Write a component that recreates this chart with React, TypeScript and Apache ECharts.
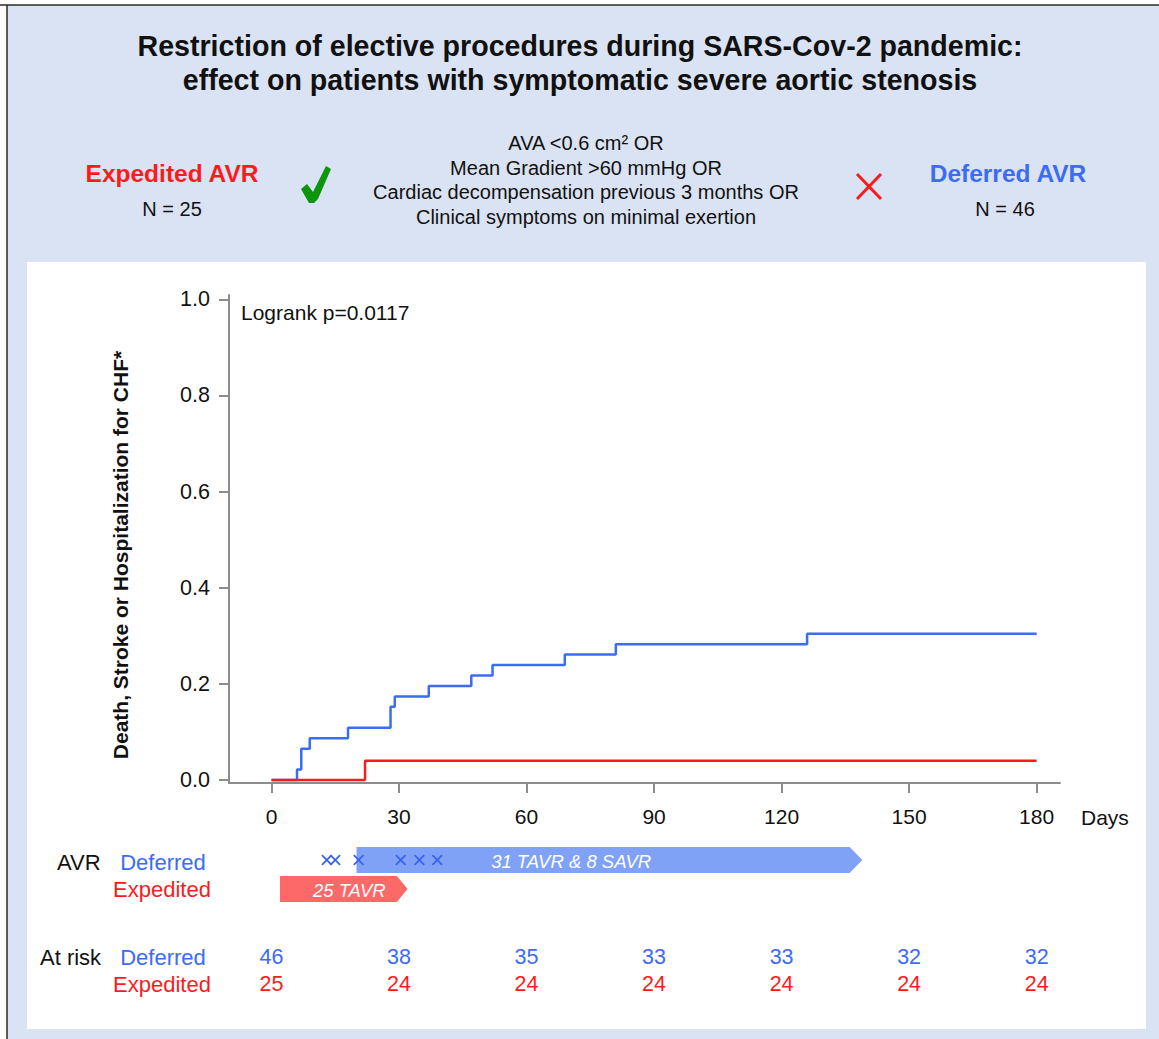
import React, { useEffect, useRef } from "react";
import * as echarts from "echarts";

// ---------- data ----------
const xTicks = [0, 30, 60, 90, 120, 150, 180];
const yTicks = [0, 0.2, 0.4, 0.6, 0.8, 1.0];

const deferredDays = [0, 6, 7, 9, 18, 28, 29, 37, 47, 52, 69, 81, 126, 180];
const deferredRisk = [0, 0.0217, 0.0652, 0.087, 0.1087, 0.1522, 0.1739, 0.1957, 0.2174, 0.2391, 0.2609, 0.2826, 0.3043, 0.3043];
const expeditedDays = [0, 22, 180];
const expeditedRisk = [0, 0.04, 0.04];

const atRiskDays = [0, 30, 60, 90, 120, 150, 180];
const atRiskDeferred = [46, 38, 35, 33, 33, 32, 32];
const atRiskExpedited = [25, 24, 24, 24, 24, 24, 24];

const deferredMarkerDays = [13, 15, 20.5, 30.4, 34.8, 39];

const avrBarStart = [20, 2];
const avrBarEnd = [136, 29.5];
const avrBarTip = [139, 32];
const avrBarLabelDay = [70.5, 18.3];
const avrBarLabels = ["31 TAVR & 8 SAVR", "25 TAVR"];

// rows of the lower panel
const ROW_AVR_DEF = 1;
const ROW_AVR_EXP = 2;
const ROW_RISK_DEF = 4.34;
const ROW_RISK_EXP = 5.28;

const BLUE = "#3b6cf2";
const RED = "#fa1c1c";
const BLUE_BAR = "#80a2f6";
const RED_BAR = "#fd6868";
const AXIS = "#8c8c8c";
const FONT = "Liberation Sans, Arial, sans-serif";

export default function App() {
  const ref = useRef<HTMLDivElement>(null);

  useEffect(() => {
    document.body.style.margin = "0";
    const chart = echarts.init(ref.current!, null, { renderer: "svg" });

    const txt = (text: string, x: number, y: number, size: number, opts: any = {}) => ({
      type: "text",
      x,
      y,
      z: 5,
      style: {
        text,
        fontSize: size,
        fontFamily: FONT,
        fontWeight: opts.bold ? "bold" : "normal",
        fill: opts.color || "#111",
        align: opts.align || "center",
        verticalAlign: "middle",
      },
      ...(opts.rotation ? { rotation: opts.rotation } : {}),
    });

    const option: any = {
      animation: false,
      backgroundColor: "#ffffff",
      grid: [
        { left: 229, right: 99, top: 295, bottom: 256 },
        { left: 229, right: 99, top: 831, height: 174 },
      ],
      xAxis: [
        {
          gridIndex: 0,
          type: "value",
          min: -10,
          max: 185.5,
          axisLine: { show: true, onZero: false, lineStyle: { color: AXIS, width: 2 } },
          axisTick: { show: true, length: 10, customValues: xTicks, lineStyle: { color: AXIS, width: 2 } },
          axisLabel: { customValues: xTicks, margin: 23, fontSize: 21, fontFamily: FONT, color: "#111" },
          splitLine: { show: false },
        },
        { gridIndex: 1, type: "value", min: -10, max: 185.5, show: false },
      ],
      yAxis: [
        {
          gridIndex: 0,
          type: "value",
          min: -0.0062,
          max: 1.0089,
          axisLine: { show: true, onZero: false, lineStyle: { color: AXIS, width: 2 } },
          axisTick: { show: true, length: 10, customValues: yTicks, lineStyle: { color: AXIS, width: 2 } },
          axisLabel: {
            customValues: yTicks,
            margin: 19,
            fontSize: 21.5,
            fontFamily: FONT,
            color: "#111",
            formatter: (v: number) => v.toFixed(1),
          },
          splitLine: { show: false },
        },
        { gridIndex: 1, type: "value", min: 0, max: 6, inverse: true, show: false },
      ],
      series: [
        {
          type: "line",
          name: "Deferred",
          xAxisIndex: 0,
          yAxisIndex: 0,
          step: "end",
          symbol: "none",
          lineStyle: { color: BLUE, width: 2.5 },
          data: deferredDays.map((d, i) => [d, deferredRisk[i]]),
          z: 3,
        },
        {
          type: "line",
          name: "Expedited",
          xAxisIndex: 0,
          yAxisIndex: 0,
          step: "end",
          symbol: "none",
          lineStyle: { color: RED, width: 2.5 },
          data: expeditedDays.map((d, i) => [d, expeditedRisk[i]]),
          z: 4,
        },
        {
          type: "custom",
          name: "AVR bars",
          xAxisIndex: 1,
          yAxisIndex: 1,
          z: 3,
          data: [
            [avrBarStart[0], avrBarEnd[0], avrBarTip[0], ROW_AVR_DEF, avrBarLabelDay[0]],
            [avrBarStart[1], avrBarEnd[1], avrBarTip[1], ROW_AVR_EXP, avrBarLabelDay[1]],
          ],
          renderItem: (params: any, api: any) => {
            const row = api.value(3);
            const p0 = api.coord([api.value(0), row]);
            const p1 = api.coord([api.value(1), row]);
            const p2 = api.coord([api.value(2), row]);
            const lp = api.coord([api.value(4), row]);
            const h = 13;
            const fill = params.dataIndex === 0 ? BLUE_BAR : RED_BAR;
            return {
              type: "group",
              children: [
                {
                  type: "polygon",
                  shape: {
                    points: [
                      [p0[0], p0[1] - h],
                      [p1[0], p1[1] - h],
                      [p2[0], p2[1]],
                      [p1[0], p1[1] + h],
                      [p0[0], p0[1] + h],
                    ],
                  },
                  style: { fill },
                },
                {
                  type: "text",
                  x: lp[0],
                  y: lp[1] + 1,
                  style: {
                    text: avrBarLabels[params.dataIndex],
                    fontSize: 18.5,
                    fontStyle: "italic",
                    fontFamily: FONT,
                    fill: "#ffffff",
                    align: "center",
                    verticalAlign: "middle",
                  },
                },
              ],
            };
          },
        },
        {
          type: "custom",
          name: "Deferred events before AVR",
          xAxisIndex: 1,
          yAxisIndex: 1,
          z: 5,
          data: deferredMarkerDays.map((d) => [d, ROW_AVR_DEF]),
          renderItem: (params: any, api: any) => {
            const p = api.coord([api.value(0), api.value(1)]);
            const s = 4.8;
            const style = { stroke: "#3a63ea", lineWidth: 1.8 };
            return {
              type: "group",
              children: [
                { type: "line", shape: { x1: p[0] - s, y1: p[1] - s, x2: p[0] + s, y2: p[1] + s }, style },
                { type: "line", shape: { x1: p[0] + s, y1: p[1] - s, x2: p[0] - s, y2: p[1] + s }, style },
              ],
            };
          },
        },
        {
          type: "custom",
          name: "At risk",
          xAxisIndex: 1,
          yAxisIndex: 1,
          z: 5,
          data: [
            ...atRiskDays.map((d, i) => [d, ROW_RISK_DEF, atRiskDeferred[i], 0]),
            ...atRiskDays.map((d, i) => [d, ROW_RISK_EXP, atRiskExpedited[i], 1]),
          ],
          renderItem: (params: any, api: any) => {
            const p = api.coord([api.value(0), api.value(1)]);
            return {
              type: "text",
              x: p[0],
              y: p[1],
              style: {
                text: String(api.value(2)),
                fontSize: 21.5,
                fontFamily: FONT,
                fill: api.value(3) === 0 ? BLUE : RED,
                align: "center",
                verticalAlign: "middle",
              },
            };
          },
        },
      ],
      graphic: [
        // backgrounds
        { type: "rect", z: -10, shape: { x: 7, y: 5, width: 1152, height: 1034 }, style: { fill: "#dae3f3" } },
        { type: "line", z: -9, shape: { x1: 0, y1: 5, x2: 1159, y2: 5 }, style: { stroke: "#2a2a2a", lineWidth: 1.5 } },
        { type: "line", z: -9, shape: { x1: 7, y1: 5, x2: 7, y2: 1039 }, style: { stroke: "#2a2a2a", lineWidth: 1.5 } },
        { type: "rect", z: -8, shape: { x: 27, y: 262, width: 1119, height: 767 }, style: { fill: "#ffffff" } },
        // title
        txt("Restriction of elective procedures during SARS-Cov-2 pandemic:", 580, 46, 28.6, { bold: true }),
        txt("effect on patients with symptomatic severe aortic stenosis", 580, 80, 28.6, { bold: true }),
        // header groups
        txt("Expedited AVR", 172, 173, 24.5, { bold: true, color: RED }),
        txt("N = 25", 172, 209, 20),
        txt("Deferred AVR", 1008, 173, 24.5, { bold: true, color: BLUE }),
        txt("N = 46", 1005, 209, 20),
        txt("AVA <0.6 cm² OR", 586, 143, 20),
        txt("Mean Gradient >60 mmHg OR", 586, 168, 20),
        txt("Cardiac decompensation previous 3 months OR", 586, 192, 20),
        txt("Clinical symptoms on minimal exertion", 586, 217, 20),
        {
          type: "polygon",
          z: 5,
          shape: {
            points: [
              [301, 189], [307, 184], [313, 192], [326, 166], [331, 169], [318, 199], [314, 203], [309, 203],
            ],
          },
          style: { fill: "#0d960d" },
        },
        { type: "line", z: 5, shape: { x1: 857, y1: 174, x2: 881, y2: 199 }, style: { stroke: "#f41c1c", lineWidth: 3 } },
        { type: "line", z: 5, shape: { x1: 881, y1: 174, x2: 857, y2: 199 }, style: { stroke: "#f41c1c", lineWidth: 3 } },
        // plot annotations
        txt("Logrank p=0.0117", 241, 312, 21, { align: "left" }),
        txt("Death, Stroke or Hospitalization for CHF*", 120, 555, 21, { bold: true, rotation: Math.PI / 2 }),
        txt("Days", 1081, 817, 21, { align: "left" }),
        // lower rows labels
        txt("AVR", 57, 862, 22, { align: "left" }),
        txt("Deferred", 163, 862, 22, { color: BLUE }),
        txt("Expedited", 162, 889, 22, { color: RED }),
        txt("At risk", 40, 957, 22, { align: "left" }),
        txt("Deferred", 163, 957, 22, { color: BLUE }),
        txt("Expedited", 162, 984, 22, { color: RED }),
      ],
    };

    chart.setOption(option);
    return () => chart.dispose();
  }, []);

  return <div ref={ref} style={{ width: 1159, height: 1039 }} />;
}
